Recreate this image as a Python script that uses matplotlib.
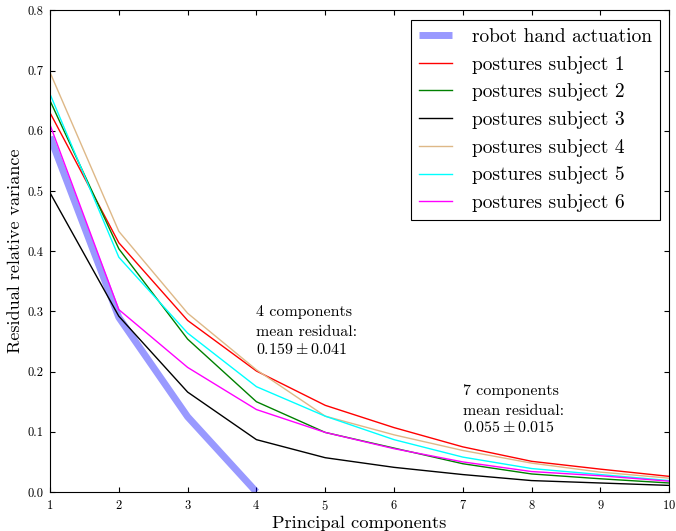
import matplotlib
matplotlib.use("Agg")
import matplotlib.pyplot as plt

plt.rcParams["font.family"] = "cmr10"
plt.rcParams["mathtext.fontset"] = "cm"
plt.rcParams["axes.formatter.use_mathtext"] = True
plt.rcParams["axes.unicode_minus"] = False

components = [1, 2, 3, 4, 5, 6, 7, 8, 9, 10]
robot_x = [1, 2, 3, 4]
robot = [0.59, 0.29, 0.125, 0.0]

subject1 = [0.630, 0.414, 0.285, 0.201, 0.144, 0.107, 0.075, 0.051, 0.038, 0.026]
subject2 = [0.650, 0.404, 0.254, 0.150, 0.099, 0.073, 0.047, 0.030, 0.022, 0.015]
subject3 = [0.497, 0.292, 0.166, 0.087, 0.057, 0.041, 0.029, 0.019, 0.015, 0.011]
subject4 = [0.697, 0.433, 0.297, 0.203, 0.126, 0.095, 0.069, 0.048, 0.033, 0.023]
subject5 = [0.661, 0.390, 0.264, 0.175, 0.126, 0.087, 0.058, 0.039, 0.029, 0.019]
subject6 = [0.610, 0.303, 0.207, 0.137, 0.099, 0.072, 0.050, 0.034, 0.027, 0.018]

subjects = [subject1, subject2, subject3, subject4, subject5, subject6]
colors = ["red", "green", "black", "burlywood", "cyan", "magenta"]

fig = plt.figure(figsize=(6.76, 5.31), dpi=100, facecolor="white")
ax = fig.add_axes([0.074, 0.0734, 0.916, 0.907])

ax.plot(robot_x, robot, color="blue", alpha=0.4, linewidth=5,
        label="robot hand actuation", solid_capstyle="butt")
for i, (ys, c) in enumerate(zip(subjects, colors)):
    ax.plot(components, ys, color=c, linewidth=1.0,
            label=f"postures subject {i + 1}")

# annotations
fs_note = 11.5
ax.text(4, 0.299, "4 components", fontsize=fs_note, va="center", ha="left")
ax.text(4, 0.266, "mean residual:", fontsize=fs_note, va="center", ha="left")
ax.text(4, 0.237, r"$0.159 \pm 0.041$", fontsize=fs_note, va="center", ha="left")
ax.text(7, 0.168, "7 components", fontsize=fs_note, va="center", ha="left")
ax.text(7, 0.135, "mean residual:", fontsize=fs_note, va="center", ha="left")
ax.text(7, 0.107, r"$0.055 \pm 0.015$", fontsize=fs_note, va="center", ha="left")

ax.set_xlim(1, 10)
ax.set_ylim(0, 0.8)
ax.set_xticks(range(1, 11))
ax.set_yticks([0.0, 0.1, 0.2, 0.3, 0.4, 0.5, 0.6, 0.7, 0.8])
ax.set_yticklabels(["0.0", "0.1", "0.2", "0.3", "0.4", "0.5", "0.6", "0.7", "0.8"])
ax.tick_params(direction="in", top=True, right=True, length=3.5, labelsize=9, pad=5)
ax.set_xlabel("Principal components", fontsize=13.3, labelpad=2)
ax.set_ylabel("Residual relative variance", fontsize=13, labelpad=3)

leg = ax.legend(loc="upper right", fontsize=14, fancybox=False, framealpha=1,
                edgecolor="black", handlelength=1.7, borderaxespad=0.5,
                labelspacing=0.5, handletextpad=1.0)
leg.get_frame().set_linewidth(0.8)

fig.savefig("out.png", dpi=100, facecolor="white")
